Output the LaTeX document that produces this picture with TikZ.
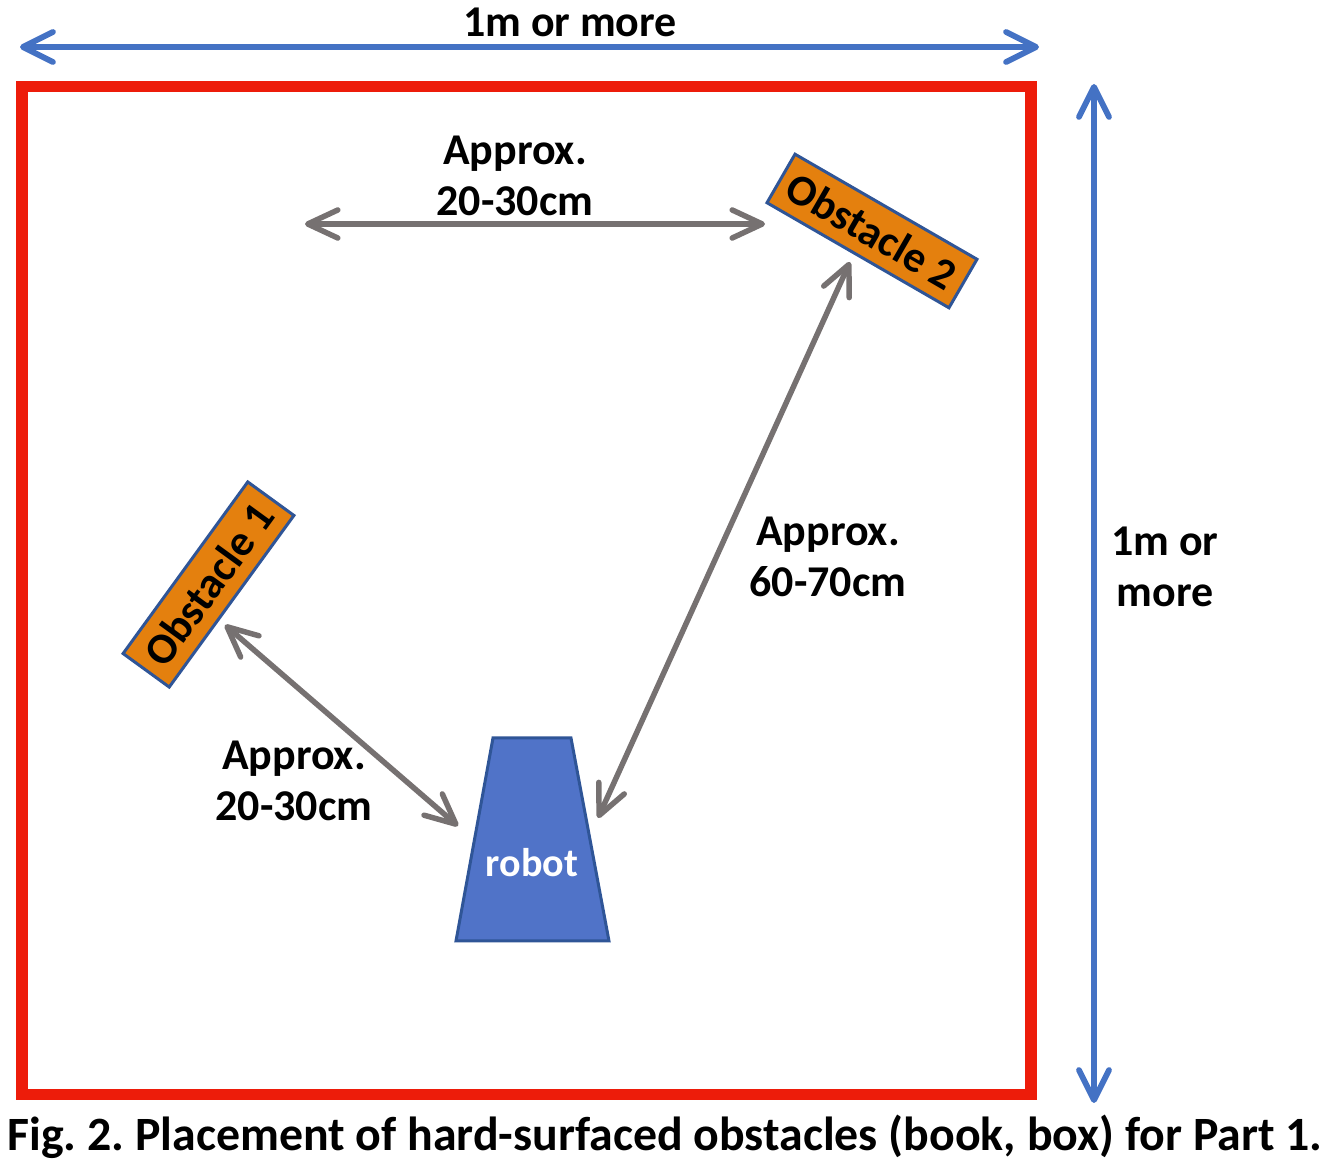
\documentclass[tikz,border=0pt]{standalone}
\usepackage{fontspec}
\setmainfont{Carlito}
\usetikzlibrary{arrows.meta}
\frenchspacing
\definecolor{framered}{RGB}{237,28,10}
\definecolor{dimblue}{RGB}{68,114,196}
\definecolor{robotblue}{RGB}{80,115,200}
\definecolor{dimgray}{RGB}{118,113,113}
\definecolor{obsorange}{RGB}{228,128,14}
\definecolor{edgeblue}{RGB}{47,85,151}
\tikzset{
  lbl/.style={font=\bfseries\fontsize{12.5pt}{15.1pt}\selectfont, align=center, inner sep=0pt},
  bluedim/.style={draw=dimblue, line width=0.058cm, {Straight Barb[length=0.3cm, width=0.3cm, round]}-{Straight Barb[length=0.3cm, width=0.3cm, round]}},
  graydim/.style={draw=dimgray, line width=0.055cm, {Straight Barb[length=0.3cm, width=0.28cm, round]}-{Straight Barb[length=0.3cm, width=0.28cm, round]}},
  obstacle/.style={draw=edgeblue, fill=obsorange, line width=0.03cm, minimum width=2.1cm, minimum height=0.56cm, inner sep=0pt, font=\bfseries\fontsize{12.4pt}{14pt}\selectfont},
}
\begin{document}
\begin{tikzpicture}[x=0.01cm, y=-0.01cm]
\useasboundingbox (0,0) rectangle (1329,1167);
% frame
\draw[framered, line width=0.11cm] (22,87) rectangle (1031,1095);
% outer dimensions
\coordinate (tl) at (20,47);
\coordinate (tr) at (1039,47);
\draw[bluedim] (tl) -- (tr);
\node[lbl] (wlabel) at (570,22) {1m or more};
\coordinate (vt) at (1094,84);
\coordinate (vb) at (1094,1103);
\draw[bluedim] (vt) -- (vb);
\node[lbl] (hlabel) at (1165,567) {1m or\\[-0.6pt]more};
% obstacles
\node[obstacle, rotate=-30] (obs2) at (872,231) {Obstacle 2};
\node[obstacle, rotate=54, minimum width=2.12cm, minimum height=0.57cm] (obs1) at (208.5,584.5) {Obstacle 1};
% robot
\draw[draw=edgeblue, fill=robotblue, line width=0.03cm] (493,738) -- (571,738) -- (609,941) -- (456,941) -- cycle;
\node[font=\bfseries\fontsize{11.4pt}{13pt}\selectfont, text=white, inner sep=0pt] (robot) at (532,863) {robot};
% gray distances
\coordinate (g1a) at (305,224);
\coordinate (g1b) at (765,224);
\draw[graydim] (g1a) -- (g1b);
\node[lbl] (d1) at (515,176) {Approx.\\[-0.6pt]20-30cm};
\coordinate (g2a) at (850,262);
\coordinate (g2b) at (598,818);
\draw[graydim] (g2a) -- (g2b);
\node[lbl] (d2) at (828,557) {Approx.\\[-0.6pt]60-70cm};
\coordinate (g3a) at (225,625);
\coordinate (g3b) at (458,826);
\draw[graydim] (g3a) -- (g3b);
\node[lbl] (d3) at (294,781) {Approx.\\[-0.6pt]20-30cm};
% caption
\node[lbl, font=\bfseries\fontsize{13.6pt}{16pt}\selectfont] (cap) at (665,1137) {Fig. 2. Placement of hard-surfaced obstacles (book, box) for Part 1.};
\end{tikzpicture}
\end{document}
